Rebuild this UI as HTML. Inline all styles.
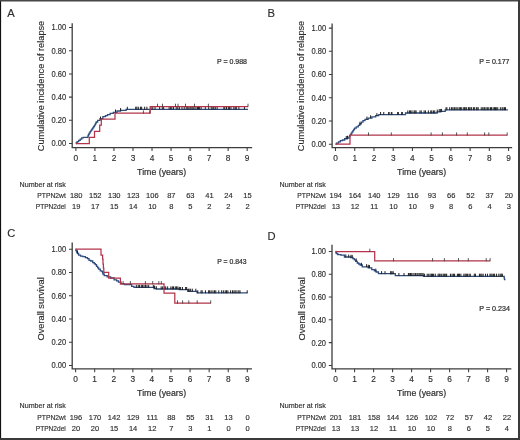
<!DOCTYPE html>
<html><head><meta charset="utf-8"><style>
html,body{margin:0;padding:0;background:#fff;}
body{width:520px;height:440px;overflow:hidden;}
svg{display:block;will-change:transform;}
text{font-family:"Liberation Sans", sans-serif;}
</style></head><body>
<svg width="520" height="440" viewBox="0 0 520 440">
<rect x="0" y="0" width="520" height="440" fill="#fff"/>
<path d="M72.2,24V147.6H251.5" stroke="#3c3c3c" stroke-width="1.3" fill="none" stroke-linecap="square"/>
<path d="M69,143.5H72.2M69,120.3H72.2M69,97.1H72.2M69,73.9H72.2M69,50.7H72.2M69,27.5H72.2M75.9,147.6V151M94.93,147.6V151M113.96,147.6V151M132.99,147.6V151M152.02,147.6V151M171.05,147.6V151M190.08,147.6V151M209.11,147.6V151M228.14,147.6V151M247.17,147.6V151" stroke="#3c3c3c" stroke-width="1.05" fill="none"/>
<path d="M332.1,24.2V147.6H511.5" stroke="#3c3c3c" stroke-width="1.3" fill="none" stroke-linecap="square"/>
<path d="M328.9,144.2H332.1M328.9,120.98H332.1M328.9,97.76H332.1M328.9,74.54H332.1M328.9,51.32H332.1M328.9,28.1H332.1M335.5,147.6V151M354.73,147.6V151M373.96,147.6V151M393.19,147.6V151M412.42,147.6V151M431.65,147.6V151M450.88,147.6V151M470.11,147.6V151M489.34,147.6V151M508.57,147.6V151" stroke="#3c3c3c" stroke-width="1.05" fill="none"/>
<path d="M72.2,243.2V368.8H251.3" stroke="#3c3c3c" stroke-width="1.3" fill="none" stroke-linecap="square"/>
<path d="M69,365.4H72.2M69,342.16H72.2M69,318.92H72.2M69,295.68H72.2M69,272.44H72.2M69,249.2H72.2M75.6,368.8V372.2M94.68,368.8V372.2M113.76,368.8V372.2M132.84,368.8V372.2M151.92,368.8V372.2M171,368.8V372.2M190.08,368.8V372.2M209.16,368.8V372.2M228.24,368.8V372.2M247.32,368.8V372.2" stroke="#3c3c3c" stroke-width="1.05" fill="none"/>
<path d="M332,245.5V368.8H510.7" stroke="#3c3c3c" stroke-width="1.3" fill="none" stroke-linecap="square"/>
<path d="M328.8,365.4H332M328.8,342.62H332M328.8,319.84H332M328.8,297.06H332M328.8,274.28H332M328.8,251.5H332M335.6,368.8V372.2M354.6,368.8V372.2M373.6,368.8V372.2M392.6,368.8V372.2M411.6,368.8V372.2M430.6,368.8V372.2M449.6,368.8V372.2M468.6,368.8V372.2M487.6,368.8V372.2M506.6,368.8V372.2" stroke="#3c3c3c" stroke-width="1.05" fill="none"/>
<g fill="#2e2e2e" stroke="#2e2e2e" stroke-width="0.15">
<text x="7.3" y="17" font-size="11.2">A</text>
<text x="66.2" y="146.4" font-size="8.3" text-anchor="end" textLength="14.6" lengthAdjust="spacingAndGlyphs">0.00</text>
<text x="66.2" y="123.2" font-size="8.3" text-anchor="end" textLength="14.6" lengthAdjust="spacingAndGlyphs">0.20</text>
<text x="66.2" y="100" font-size="8.3" text-anchor="end" textLength="14.6" lengthAdjust="spacingAndGlyphs">0.40</text>
<text x="66.2" y="76.8" font-size="8.3" text-anchor="end" textLength="14.6" lengthAdjust="spacingAndGlyphs">0.60</text>
<text x="66.2" y="53.6" font-size="8.3" text-anchor="end" textLength="14.6" lengthAdjust="spacingAndGlyphs">0.80</text>
<text x="66.2" y="30.4" font-size="8.3" text-anchor="end" textLength="14.6" lengthAdjust="spacingAndGlyphs">1.00</text>
<text x="75.9" y="161.2" font-size="8.3" text-anchor="middle">0</text>
<text x="94.93" y="161.2" font-size="8.3" text-anchor="middle">1</text>
<text x="113.96" y="161.2" font-size="8.3" text-anchor="middle">2</text>
<text x="132.99" y="161.2" font-size="8.3" text-anchor="middle">3</text>
<text x="152.02" y="161.2" font-size="8.3" text-anchor="middle">4</text>
<text x="171.05" y="161.2" font-size="8.3" text-anchor="middle">5</text>
<text x="190.08" y="161.2" font-size="8.3" text-anchor="middle">6</text>
<text x="209.11" y="161.2" font-size="8.3" text-anchor="middle">7</text>
<text x="228.14" y="161.2" font-size="8.3" text-anchor="middle">8</text>
<text x="247.17" y="161.2" font-size="8.3" text-anchor="middle">9</text>
<text x="137.1" y="174.6" font-size="9.0" textLength="49" lengthAdjust="spacingAndGlyphs" stroke-width="0.2">Time (years)</text>
<text transform="translate(44.3,86) rotate(-90)" x="0" y="0" font-size="9" text-anchor="middle" textLength="130.5" lengthAdjust="spacingAndGlyphs">Cumulative incidence of relapse</text>
<text x="217" y="64.2" font-size="7.2" textLength="30" lengthAdjust="spacingAndGlyphs" stroke-width="0.22">P = 0.988</text>
<text x="19.6" y="186.5" font-size="7.1" textLength="46.2" lengthAdjust="spacingAndGlyphs">Number at risk</text>
<text x="65.8" y="197.8" font-size="7.1" text-anchor="end" textLength="28.5" lengthAdjust="spacingAndGlyphs">PTPN2wt</text>
<text x="65.8" y="209.4" font-size="7.1" text-anchor="end" textLength="30" lengthAdjust="spacingAndGlyphs">PTPN2del</text>
<text x="76.2" y="197.8" font-size="7.5" text-anchor="middle">180</text>
<text x="76.2" y="209.4" font-size="7.5" text-anchor="middle">19</text>
<text x="95.23" y="197.8" font-size="7.5" text-anchor="middle">152</text>
<text x="95.23" y="209.4" font-size="7.5" text-anchor="middle">17</text>
<text x="114.26" y="197.8" font-size="7.5" text-anchor="middle">130</text>
<text x="114.26" y="209.4" font-size="7.5" text-anchor="middle">15</text>
<text x="133.29" y="197.8" font-size="7.5" text-anchor="middle">123</text>
<text x="133.29" y="209.4" font-size="7.5" text-anchor="middle">14</text>
<text x="152.32" y="197.8" font-size="7.5" text-anchor="middle">106</text>
<text x="152.32" y="209.4" font-size="7.5" text-anchor="middle">10</text>
<text x="171.35" y="197.8" font-size="7.5" text-anchor="middle">87</text>
<text x="171.35" y="209.4" font-size="7.5" text-anchor="middle">8</text>
<text x="190.38" y="197.8" font-size="7.5" text-anchor="middle">63</text>
<text x="190.38" y="209.4" font-size="7.5" text-anchor="middle">5</text>
<text x="209.41" y="197.8" font-size="7.5" text-anchor="middle">41</text>
<text x="209.41" y="209.4" font-size="7.5" text-anchor="middle">2</text>
<text x="228.44" y="197.8" font-size="7.5" text-anchor="middle">24</text>
<text x="228.44" y="209.4" font-size="7.5" text-anchor="middle">2</text>
<text x="247.47" y="197.8" font-size="7.5" text-anchor="middle">15</text>
<text x="247.47" y="209.4" font-size="7.5" text-anchor="middle">2</text>
<text x="267.6" y="17" font-size="11.2">B</text>
<text x="326.1" y="147.1" font-size="8.3" text-anchor="end" textLength="14.6" lengthAdjust="spacingAndGlyphs">0.00</text>
<text x="326.1" y="123.88" font-size="8.3" text-anchor="end" textLength="14.6" lengthAdjust="spacingAndGlyphs">0.20</text>
<text x="326.1" y="100.66" font-size="8.3" text-anchor="end" textLength="14.6" lengthAdjust="spacingAndGlyphs">0.40</text>
<text x="326.1" y="77.44" font-size="8.3" text-anchor="end" textLength="14.6" lengthAdjust="spacingAndGlyphs">0.60</text>
<text x="326.1" y="54.22" font-size="8.3" text-anchor="end" textLength="14.6" lengthAdjust="spacingAndGlyphs">0.80</text>
<text x="326.1" y="31" font-size="8.3" text-anchor="end" textLength="14.6" lengthAdjust="spacingAndGlyphs">1.00</text>
<text x="335.5" y="161.2" font-size="8.3" text-anchor="middle">0</text>
<text x="354.73" y="161.2" font-size="8.3" text-anchor="middle">1</text>
<text x="373.96" y="161.2" font-size="8.3" text-anchor="middle">2</text>
<text x="393.19" y="161.2" font-size="8.3" text-anchor="middle">3</text>
<text x="412.42" y="161.2" font-size="8.3" text-anchor="middle">4</text>
<text x="431.65" y="161.2" font-size="8.3" text-anchor="middle">5</text>
<text x="450.88" y="161.2" font-size="8.3" text-anchor="middle">6</text>
<text x="470.11" y="161.2" font-size="8.3" text-anchor="middle">7</text>
<text x="489.34" y="161.2" font-size="8.3" text-anchor="middle">8</text>
<text x="508.57" y="161.2" font-size="8.3" text-anchor="middle">9</text>
<text x="397.1" y="174.6" font-size="9.0" textLength="49" lengthAdjust="spacingAndGlyphs" stroke-width="0.2">Time (years)</text>
<text transform="translate(304.3,86) rotate(-90)" x="0" y="0" font-size="9" text-anchor="middle" textLength="130.5" lengthAdjust="spacingAndGlyphs">Cumulative incidence of relapse</text>
<text x="479.3" y="64.1" font-size="7.2" textLength="30.2" lengthAdjust="spacingAndGlyphs" stroke-width="0.22">P = 0.177</text>
<text x="279.6" y="186.5" font-size="7.1" textLength="46.2" lengthAdjust="spacingAndGlyphs">Number at risk</text>
<text x="325.8" y="197.8" font-size="7.1" text-anchor="end" textLength="28.5" lengthAdjust="spacingAndGlyphs">PTPN2wt</text>
<text x="325.8" y="209.4" font-size="7.1" text-anchor="end" textLength="30" lengthAdjust="spacingAndGlyphs">PTPN2del</text>
<text x="335.8" y="197.8" font-size="7.5" text-anchor="middle">194</text>
<text x="335.8" y="209.4" font-size="7.5" text-anchor="middle">13</text>
<text x="355.03" y="197.8" font-size="7.5" text-anchor="middle">164</text>
<text x="355.03" y="209.4" font-size="7.5" text-anchor="middle">12</text>
<text x="374.26" y="197.8" font-size="7.5" text-anchor="middle">140</text>
<text x="374.26" y="209.4" font-size="7.5" text-anchor="middle">11</text>
<text x="393.49" y="197.8" font-size="7.5" text-anchor="middle">129</text>
<text x="393.49" y="209.4" font-size="7.5" text-anchor="middle">10</text>
<text x="412.72" y="197.8" font-size="7.5" text-anchor="middle">116</text>
<text x="412.72" y="209.4" font-size="7.5" text-anchor="middle">10</text>
<text x="431.95" y="197.8" font-size="7.5" text-anchor="middle">93</text>
<text x="431.95" y="209.4" font-size="7.5" text-anchor="middle">9</text>
<text x="451.18" y="197.8" font-size="7.5" text-anchor="middle">66</text>
<text x="451.18" y="209.4" font-size="7.5" text-anchor="middle">8</text>
<text x="470.41" y="197.8" font-size="7.5" text-anchor="middle">52</text>
<text x="470.41" y="209.4" font-size="7.5" text-anchor="middle">6</text>
<text x="489.64" y="197.8" font-size="7.5" text-anchor="middle">37</text>
<text x="489.64" y="209.4" font-size="7.5" text-anchor="middle">4</text>
<text x="508.87" y="197.8" font-size="7.5" text-anchor="middle">20</text>
<text x="508.87" y="209.4" font-size="7.5" text-anchor="middle">3</text>
<text x="7.3" y="237.3" font-size="11.2">C</text>
<text x="66.2" y="368.3" font-size="8.3" text-anchor="end" textLength="14.6" lengthAdjust="spacingAndGlyphs">0.00</text>
<text x="66.2" y="345.06" font-size="8.3" text-anchor="end" textLength="14.6" lengthAdjust="spacingAndGlyphs">0.20</text>
<text x="66.2" y="321.82" font-size="8.3" text-anchor="end" textLength="14.6" lengthAdjust="spacingAndGlyphs">0.40</text>
<text x="66.2" y="298.58" font-size="8.3" text-anchor="end" textLength="14.6" lengthAdjust="spacingAndGlyphs">0.60</text>
<text x="66.2" y="275.34" font-size="8.3" text-anchor="end" textLength="14.6" lengthAdjust="spacingAndGlyphs">0.80</text>
<text x="66.2" y="252.1" font-size="8.3" text-anchor="end" textLength="14.6" lengthAdjust="spacingAndGlyphs">1.00</text>
<text x="75.6" y="382.4" font-size="8.3" text-anchor="middle">0</text>
<text x="94.68" y="382.4" font-size="8.3" text-anchor="middle">1</text>
<text x="113.76" y="382.4" font-size="8.3" text-anchor="middle">2</text>
<text x="132.84" y="382.4" font-size="8.3" text-anchor="middle">3</text>
<text x="151.92" y="382.4" font-size="8.3" text-anchor="middle">4</text>
<text x="171" y="382.4" font-size="8.3" text-anchor="middle">5</text>
<text x="190.08" y="382.4" font-size="8.3" text-anchor="middle">6</text>
<text x="209.16" y="382.4" font-size="8.3" text-anchor="middle">7</text>
<text x="228.24" y="382.4" font-size="8.3" text-anchor="middle">8</text>
<text x="247.32" y="382.4" font-size="8.3" text-anchor="middle">9</text>
<text x="137.1" y="395.9" font-size="9.0" textLength="49" lengthAdjust="spacingAndGlyphs" stroke-width="0.2">Time (years)</text>
<text transform="translate(44.4,308.9) rotate(-90)" x="0" y="0" font-size="9.4" text-anchor="middle" textLength="63.3" lengthAdjust="spacingAndGlyphs">Overall survival</text>
<text x="217.3" y="264.1" font-size="7.2" textLength="29.3" lengthAdjust="spacingAndGlyphs" stroke-width="0.22">P = 0.843</text>
<text x="19.6" y="408.3" font-size="7.1" textLength="46.2" lengthAdjust="spacingAndGlyphs">Number at risk</text>
<text x="65.8" y="419.6" font-size="7.1" text-anchor="end" textLength="28.5" lengthAdjust="spacingAndGlyphs">PTPN2wt</text>
<text x="65.8" y="431.2" font-size="7.1" text-anchor="end" textLength="30" lengthAdjust="spacingAndGlyphs">PTPN2del</text>
<text x="75.9" y="419.6" font-size="7.5" text-anchor="middle">196</text>
<text x="75.9" y="431.2" font-size="7.5" text-anchor="middle">20</text>
<text x="94.98" y="419.6" font-size="7.5" text-anchor="middle">170</text>
<text x="94.98" y="431.2" font-size="7.5" text-anchor="middle">20</text>
<text x="114.06" y="419.6" font-size="7.5" text-anchor="middle">142</text>
<text x="114.06" y="431.2" font-size="7.5" text-anchor="middle">15</text>
<text x="133.14" y="419.6" font-size="7.5" text-anchor="middle">129</text>
<text x="133.14" y="431.2" font-size="7.5" text-anchor="middle">14</text>
<text x="152.22" y="419.6" font-size="7.5" text-anchor="middle">111</text>
<text x="152.22" y="431.2" font-size="7.5" text-anchor="middle">12</text>
<text x="171.3" y="419.6" font-size="7.5" text-anchor="middle">88</text>
<text x="171.3" y="431.2" font-size="7.5" text-anchor="middle">7</text>
<text x="190.38" y="419.6" font-size="7.5" text-anchor="middle">55</text>
<text x="190.38" y="431.2" font-size="7.5" text-anchor="middle">3</text>
<text x="209.46" y="419.6" font-size="7.5" text-anchor="middle">31</text>
<text x="209.46" y="431.2" font-size="7.5" text-anchor="middle">1</text>
<text x="228.54" y="419.6" font-size="7.5" text-anchor="middle">13</text>
<text x="228.54" y="431.2" font-size="7.5" text-anchor="middle">0</text>
<text x="247.62" y="419.6" font-size="7.5" text-anchor="middle">0</text>
<text x="247.62" y="431.2" font-size="7.5" text-anchor="middle">0</text>
<text x="267.6" y="239.6" font-size="11.2">D</text>
<text x="326" y="368.3" font-size="8.3" text-anchor="end" textLength="14.6" lengthAdjust="spacingAndGlyphs">0.00</text>
<text x="326" y="345.52" font-size="8.3" text-anchor="end" textLength="14.6" lengthAdjust="spacingAndGlyphs">0.20</text>
<text x="326" y="322.74" font-size="8.3" text-anchor="end" textLength="14.6" lengthAdjust="spacingAndGlyphs">0.40</text>
<text x="326" y="299.96" font-size="8.3" text-anchor="end" textLength="14.6" lengthAdjust="spacingAndGlyphs">0.60</text>
<text x="326" y="277.18" font-size="8.3" text-anchor="end" textLength="14.6" lengthAdjust="spacingAndGlyphs">0.80</text>
<text x="326" y="254.4" font-size="8.3" text-anchor="end" textLength="14.6" lengthAdjust="spacingAndGlyphs">1.00</text>
<text x="335.6" y="382.4" font-size="8.3" text-anchor="middle">0</text>
<text x="354.6" y="382.4" font-size="8.3" text-anchor="middle">1</text>
<text x="373.6" y="382.4" font-size="8.3" text-anchor="middle">2</text>
<text x="392.6" y="382.4" font-size="8.3" text-anchor="middle">3</text>
<text x="411.6" y="382.4" font-size="8.3" text-anchor="middle">4</text>
<text x="430.6" y="382.4" font-size="8.3" text-anchor="middle">5</text>
<text x="449.6" y="382.4" font-size="8.3" text-anchor="middle">6</text>
<text x="468.6" y="382.4" font-size="8.3" text-anchor="middle">7</text>
<text x="487.6" y="382.4" font-size="8.3" text-anchor="middle">8</text>
<text x="506.6" y="382.4" font-size="8.3" text-anchor="middle">9</text>
<text x="397.1" y="395.9" font-size="9.0" textLength="49" lengthAdjust="spacingAndGlyphs" stroke-width="0.2">Time (years)</text>
<text transform="translate(304.5,308.9) rotate(-90)" x="0" y="0" font-size="9.4" text-anchor="middle" textLength="63.3" lengthAdjust="spacingAndGlyphs">Overall survival</text>
<text x="479.3" y="311.4" font-size="7.2" textLength="30.6" lengthAdjust="spacingAndGlyphs" stroke-width="0.22">P = 0.234</text>
<text x="279.6" y="408.3" font-size="7.1" textLength="46.2" lengthAdjust="spacingAndGlyphs">Number at risk</text>
<text x="325.8" y="419.6" font-size="7.1" text-anchor="end" textLength="28.5" lengthAdjust="spacingAndGlyphs">PTPN2wt</text>
<text x="325.8" y="431.2" font-size="7.1" text-anchor="end" textLength="30" lengthAdjust="spacingAndGlyphs">PTPN2del</text>
<text x="335.9" y="419.6" font-size="7.5" text-anchor="middle">201</text>
<text x="335.9" y="431.2" font-size="7.5" text-anchor="middle">13</text>
<text x="354.9" y="419.6" font-size="7.5" text-anchor="middle">181</text>
<text x="354.9" y="431.2" font-size="7.5" text-anchor="middle">13</text>
<text x="373.9" y="419.6" font-size="7.5" text-anchor="middle">158</text>
<text x="373.9" y="431.2" font-size="7.5" text-anchor="middle">12</text>
<text x="392.9" y="419.6" font-size="7.5" text-anchor="middle">144</text>
<text x="392.9" y="431.2" font-size="7.5" text-anchor="middle">11</text>
<text x="411.9" y="419.6" font-size="7.5" text-anchor="middle">126</text>
<text x="411.9" y="431.2" font-size="7.5" text-anchor="middle">10</text>
<text x="430.9" y="419.6" font-size="7.5" text-anchor="middle">102</text>
<text x="430.9" y="431.2" font-size="7.5" text-anchor="middle">10</text>
<text x="449.9" y="419.6" font-size="7.5" text-anchor="middle">72</text>
<text x="449.9" y="431.2" font-size="7.5" text-anchor="middle">8</text>
<text x="468.9" y="419.6" font-size="7.5" text-anchor="middle">57</text>
<text x="468.9" y="431.2" font-size="7.5" text-anchor="middle">6</text>
<text x="487.9" y="419.6" font-size="7.5" text-anchor="middle">42</text>
<text x="487.9" y="431.2" font-size="7.5" text-anchor="middle">5</text>
<text x="506.9" y="419.6" font-size="7.5" text-anchor="middle">22</text>
<text x="506.9" y="431.2" font-size="7.5" text-anchor="middle">4</text>
</g>
<path d="M75.9,143.5H76.15V143H76.4H77.16V141.72H78.69V140.45H80.21V139.18H81.74V137.9H82.5H83.25V137.3H84H87.7H87.95V135.9H88.45V134.5H88.7H89.15V133.1H90.05V131.7H90.95V130.3H91.4H91.83V129.1H92.7V127.9H93.57V126.7H94H94.33V125.53H94.97V124.35H95.62V123.17H96.27V122H96.6H97.65V120.4H98.7H100V118.6H101.3H102.85V116.7H104.4H105.45V115.65H107.55V114.6H108.6H110.15V113.4H111.7H113.3V112.3H114.9H117V111H119.1H120.55V110.3H122H124.4H126.1V109.3H127.8H149.5H150H248" stroke="#2e4c7e" stroke-width="1.3" fill="none"/>
<path d="M100.5,116.55V119.55M115.5,109.51V112.51M120.6,108.04V111.04M127.3,106.8V109.8M135.72,106.7V109.7M136.86,106.7V109.7M138.29,106.7V109.7M140.43,106.7V109.7M141.66,106.7V109.7M144.66,106.7V109.7M146.9,106.7V109.7M151.06,106.5V109.5M152.78,106.5V109.5M155.03,106.5V109.5M159.65,106.5V109.5M162.31,106.5V109.5M163.64,106.5V109.5M169.14,106.5V109.5M170.67,106.5V109.5M171.84,106.5V109.5M173.56,106.5V109.5M176.22,106.5V109.5M177.78,106.5V109.5M179.38,106.5V109.5M182.01,106.5V109.5M184.23,106.5V109.5M186.21,106.5V109.5M187.7,106.5V109.5M188.96,106.5V109.5M190.26,106.5V109.5M191.87,106.5V109.5M192.98,106.5V109.5M194.05,106.5V109.5M195.92,106.5V109.5M197.46,106.5V109.5M198.51,106.5V109.5M199.62,106.5V109.5M201.13,106.5V109.5M205.3,106.5V109.5M208.7,106.5V109.5M211.24,106.5V109.5M212.86,106.5V109.5M213.82,106.5V109.5M215.29,106.5V109.5M217.17,106.5V109.5M223.87,106.5V109.5M224.8,106.5V109.5M226.5,106.5V109.5M228.36,106.5V109.5M229.41,106.5V109.5M230.94,106.5V109.5M233.82,106.5V109.5M235.24,106.5V109.5M236.32,106.5V109.5M238.85,106.5V109.5M244.44,106.5V109.5" stroke="#1e1e1e" stroke-width="1.0" fill="none"/>
<path d="M75.9,143.5H89.3V137.4H94.5V131.3H99.7V125.2H101.3V119.1H115V113.2H150.2V106.5H248V106.5" stroke="#b3344a" stroke-width="1.25" fill="none"/>
<path d="M143.4,110.4V113.6M149.8,110.4V113.6M157.5,103.7V106.9M162.5,103.7V106.9M175.5,103.7V106.9M178,103.7V106.9M185.5,103.7V106.9M194.5,103.7V106.9M208.4,103.7V106.9M248,103.7V106.9" stroke="#3a3a3a" stroke-width="0.85" fill="none"/>
<path d="M335.5,144.2H336.5V143.1H337.5H338.45V141.9H339.4H340.32V140.6H341.25H342.5V140H343.75H344.68V138.75H345.6H347.18V138.1H348.75H349.06V136.85H349.69V135.6H350H350.42V134.37H351.25V133.13H352.08V131.9H352.5H352.92V130.63H353.75V129.37H354.58V128.1H355H356.25V126.9H357.5H358.27V125.33H359.83V123.75H360.6H361.39V122.17H362.96V120.6H363.75H365V119.4H366.25H368.12V118.1H370H371.88V116.9H373.75H375.62V115.6H377.5H378.75V114.6H380H405.2H405.5V113H405.8H436.9H437.2V111.8H437.5H440.85V111.3H444.2H445.2V109.8H446.2H507.9" stroke="#2e4c7e" stroke-width="1.3" fill="none"/>
<path d="M346.25,136.02V139.02M347.5,135.76V138.76M360,121.76V124.76M366.9,116.57V119.57M370.6,115.31V118.31M376.9,113.21V116.21M380.6,112V115M383.75,112V115M388.75,112V115M389,112V115M391.3,112V115M391.9,112V115M397.7,112V115M398.3,112V115M401.7,112V115M402.3,112V115M407.82,110.4V113.4M409.59,110.4V113.4M410.6,110.4V113.4M411.99,110.4V113.4M414.08,110.4V113.4M415.07,110.4V113.4M416.07,110.4V113.4M420.01,110.4V113.4M421.23,110.4V113.4M424.12,110.4V113.4M425.43,110.4V113.4M428.38,110.4V113.4M430.76,110.4V113.4M431.79,110.4V113.4M433.42,110.4V113.4M434.72,110.4V113.4M437.28,109.64V112.64M439.19,109.07V112.07M440.34,108.99V111.99M441.59,108.89V111.89M446.01,107.34V110.34M446.92,107.2V110.2M449.71,107.2V110.2M451.57,107.2V110.2M452.85,107.2V110.2M454.16,107.2V110.2M454.88,107.2V110.2M456.16,107.2V110.2M457.8,107.2V110.2M459.27,107.2V110.2M460.42,107.2V110.2M461.27,107.2V110.2M463.23,107.2V110.2M464.4,107.2V110.2M465.24,107.2V110.2M466.67,107.2V110.2M468.48,107.2V110.2M469.32,107.2V110.2M470.88,107.2V110.2M471.7,107.2V110.2M473.62,107.2V110.2M474.32,107.2V110.2M476.28,107.2V110.2M477.08,107.2V110.2M478.2,107.2V110.2M481.22,107.2V110.2M482.75,107.2V110.2M484,107.2V110.2M484.77,107.2V110.2M486.13,107.2V110.2M487.67,107.2V110.2M488.84,107.2V110.2M490.53,107.2V110.2M491.47,107.2V110.2M493.12,107.2V110.2M494.43,107.2V110.2M495.43,107.2V110.2M496.31,107.2V110.2M497.75,107.2V110.2M500.34,107.2V110.2M502.08,107.2V110.2M503.06,107.2V110.2M504.54,107.2V110.2M505.48,107.2V110.2" stroke="#1e1e1e" stroke-width="1.0" fill="none"/>
<path d="M335.5,144.2H350V135.2H507.2V135.2" stroke="#b3344a" stroke-width="1.25" fill="none"/>
<path d="M368.5,132.4V135.6M391.3,132.4V135.6M431.1,132.4V135.6M442.4,132.4V135.6M456.6,132.4V135.6M467.3,132.4V135.6M484.6,132.4V135.6M488.8,132.4V135.6M507.2,132.4V135.6" stroke="#3a3a3a" stroke-width="0.85" fill="none"/>
<path d="M75.6,249.2H75.88V250.35H76.42V251.5H76.7H76.96V252.5H77.49V253.5H77.75H78.62V255.2H79.5H80.5V256.2H81.5H82.85V256.6H84.2H85.4V257.6H86.6H87.45V258.6H88.3H89V260.3H89.7H90.7V261H91.7H92.75V262.7H93.8H94.3V263.7H95.3V264.7H95.8H96.5V266.4H97.2H97.7V267.8H98.7V269.2H99.2H100.25V270.9H101.3H101.95V271.6H102.6H102.7V272.8H102.9V274H103H104.2V275.7H105.4H107.15V276.9H108.9H110.65V278H112.4H114.1V279.8H115.8H116.67V280.95H118.42V282.1H119.3H121.05V283.8H122.8H124.5V284.6H126.2H130.8H131.65V286.4H132.5H133.95V287.4H135.4H153H154V288.5H155H156.35V289H157.7H178.8H179.15V289.6H179.5H187.5H187.85V291.3H188.2H196.8H197.1V292.9H197.4H247.3" stroke="#2e4c7e" stroke-width="1.3" fill="none"/>
<path d="M77.5,250.42V253.42M247.2,290.3V293.3M136.3,284.8V287.8M138.22,284.8V287.8M139.55,284.8V287.8M141.33,284.8V287.8M142.59,284.8V287.8M144.01,284.8V287.8M145.46,284.8V287.8M146.98,284.8V287.8M148.66,284.8V287.8M153.35,284.99V287.99M154.55,285.65V288.65M156.27,286.14V289.14M161.16,286.4V289.4M162.66,286.4V289.4M164.73,286.4V289.4M165.72,286.4V289.4M167.63,286.4V289.4M170.87,286.4V289.4M172.36,286.4V289.4M173.49,286.4V289.4M175.27,286.4V289.4M176.45,286.4V289.4M177.87,286.4V289.4M179.35,286.88V289.88M180.62,287V290M182.45,287V290M185.6,287V290M186.65,287V290M188.23,288.7V291.7M189.18,288.7V291.7M190.63,288.7V291.7M192.32,288.7V291.7M195.83,288.7V291.7M197.81,290.3V293.3M201.06,290.3V293.3M202.17,290.3V293.3M205.44,290.3V293.3M208.61,290.3V293.3M209.67,290.3V293.3M211.15,290.3V293.3M212.96,290.3V293.3M214.54,290.3V293.3M215.81,290.3V293.3M218.79,290.3V293.3M221.64,290.3V293.3M223.35,290.3V293.3M225.21,290.3V293.3M226.5,290.3V293.3M227.88,290.3V293.3M230.61,290.3V293.3M232.54,290.3V293.3M233.98,290.3V293.3M235.19,290.3V293.3M236.95,290.3V293.3M238.77,290.3V293.3M240.01,290.3V293.3" stroke="#1e1e1e" stroke-width="1.0" fill="none"/>
<path d="M75.6,249.2H101V255H102.6V259H103V264H103.4V268H103.8V272.3H108.7V278.1H120.4V283.9H164V293.2H174.8V303.2H210.7V303.2" stroke="#b3344a" stroke-width="1.25" fill="none"/>
<path d="M123.1,281.1V284.3M130.4,281.1V284.3M145.4,281.1V284.3M152.7,281.1V284.3M158.8,281.1V284.3M161.3,281.1V284.3M177.5,300.4V303.6M182.6,300.4V303.6M188.8,300.4V303.6M197.2,300.4V303.6M210.7,300.4V303.6" stroke="#3a3a3a" stroke-width="0.85" fill="none"/>
<path d="M335.6,251.5H335.85V252.5H336.35V253.5H336.6H337.75V254.7H338.9H340.95V255.2H343H344.4V257H345.8H349.3H350.75V257.5H352.2H352.9V258.65H354.3V259.8H355H355.75V261.4H357.25V263H358H358.7V264H360.1V265H360.8H362.25V266.8H363.7H366.6H368.3V267.9H370H371.75V269.6H373.5H374.38V270.8H376.12V272H377H378.45V273.7H379.9H394.8H395.3V275.6H395.8H423.1H423.45V276.3H423.8H504H504.1V277.43H504.3V278.57H504.5V279.7H504.6H505.5" stroke="#2e4c7e" stroke-width="1.3" fill="none"/>
<path d="M345.8,254.4V257.4M348.7,254.57V257.57M351,254.78V257.78M352.2,254.9V257.9M356.2,258.48V261.48M361.4,262.77V265.77M366.6,264.2V267.2M368.3,264.75V267.75M369.5,265.14V268.14M375.8,268.58V271.58M381.6,271.12V274.12M385,271.17V274.17M390.8,271.25V274.25M390.89,271.25V274.25M392.07,271.26V274.26M393.21,271.28V274.28M398.88,273V276M404,273V276M408.4,273V276M409.23,273V276M410.53,273V276M411.73,273V276M413.11,273V276M414.98,273V276M415.7,273V276M417.05,273V276M418.1,273V276M419.78,273V276M420.86,273V276M422,273V276M423.17,273.07V276.07M424.43,273.7V276.7M427.19,273.7V276.7M428.72,273.7V276.7M430.13,273.7V276.7M431.6,273.7V276.7M432.46,273.7V276.7M433.62,273.7V276.7M435.31,273.7V276.7M438.11,273.7V276.7M439.29,273.7V276.7M440.11,273.7V276.7M441.7,273.7V276.7M443.24,273.7V276.7M444.37,273.7V276.7M445.75,273.7V276.7M446.68,273.7V276.7M450.48,273.7V276.7M452.05,273.7V276.7M453.4,273.7V276.7M454.59,273.7V276.7M457.4,273.7V276.7M458.53,273.7V276.7M459.45,273.7V276.7M460.9,273.7V276.7M463.88,273.7V276.7M465.19,273.7V276.7M466.3,273.7V276.7M467.58,273.7V276.7M469.11,273.7V276.7M470.31,273.7V276.7M474.29,273.7V276.7M475.45,273.7V276.7M479.44,273.7V276.7M480.74,273.7V276.7M481.91,273.7V276.7M483.17,273.7V276.7M485.56,273.7V276.7M487.45,273.7V276.7M489.96,273.7V276.7M490.96,273.7V276.7M492.07,273.7V276.7M493.37,273.7V276.7M494.61,273.7V276.7M496.56,273.7V276.7M498.81,273.7V276.7M500.26,273.7V276.7M501.72,273.7V276.7M502.32,273.7V276.7" stroke="#1e1e1e" stroke-width="1.0" fill="none"/>
<path d="M335.6,251.5H374.7V260.9H490.1V260.9" stroke="#b3344a" stroke-width="1.25" fill="none"/>
<path d="M369.8,248.7V251.9M393.5,258.1V261.3M432.6,258.1V261.3M444.4,258.1V261.3M458.5,258.1V261.3M468.3,258.1V261.3M486.2,258.1V261.3M490.1,258.1V261.3" stroke="#3a3a3a" stroke-width="0.85" fill="none"/>
<path d="M0.5,0V440" stroke="#111" stroke-width="1.2"/>
<path d="M0,0.75H520" stroke="#474747" stroke-width="1.5"/>
<path d="M519,0V440" stroke="#3a3a3a" stroke-width="2"/>
<path d="M0,439H520" stroke="#3a3a3a" stroke-width="2"/>
</svg>
</body></html>
